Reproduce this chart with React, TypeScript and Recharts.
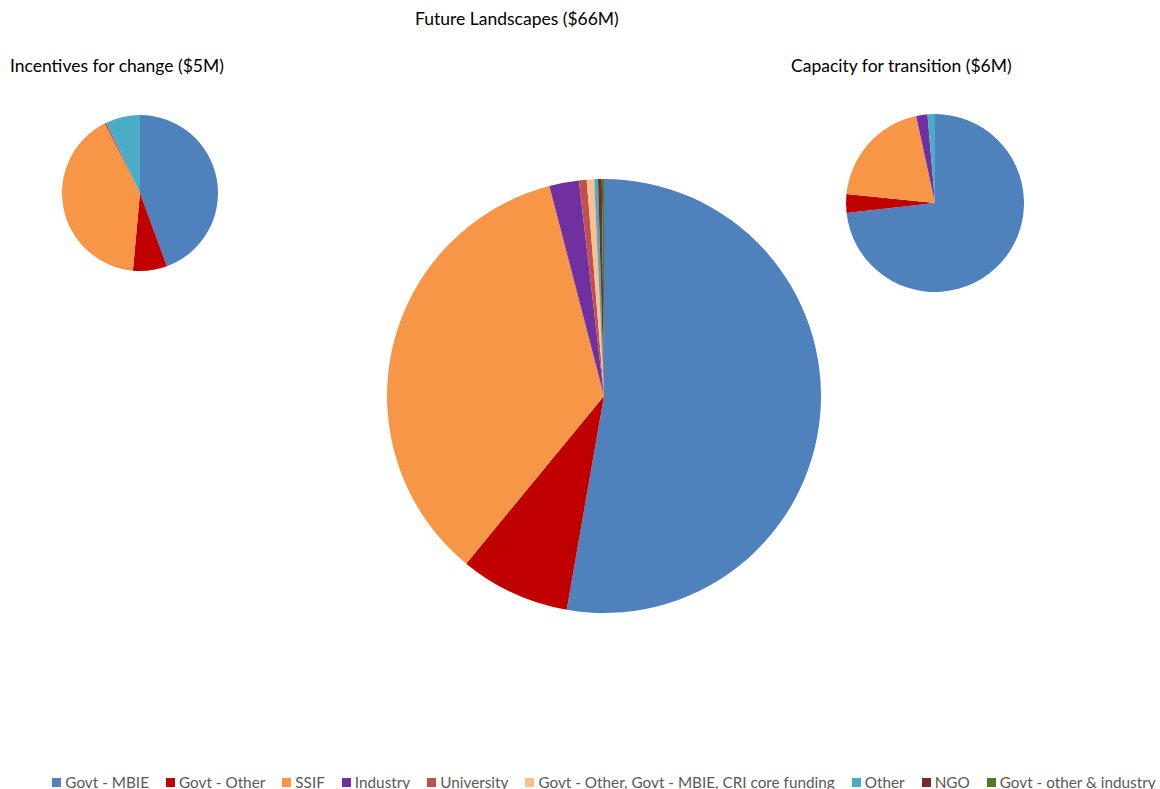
import { Cell, Pie, PieChart } from "recharts";

const categories = [
  "Govt - MBIE",
  "Govt - Other",
  "SSIF",
  "Industry",
  "University",
  "Govt - Other, Govt - MBIE, CRI core funding",
  "Other",
  "NGO",
  "Govt - other & industry",
];

const colors = [
  "#4F81BD",
  "#C00000",
  "#F79646",
  "#7030A0",
  "#C0504D",
  "#FAC090",
  "#4BACC6",
  "#772C2A",
  "#4F7A28",
];

// share of funding (%) per category, same order as categories
const futureLandscapes = [52.75, 8.2, 35.0, 2.2, 0.58, 0.55, 0.28, 0.28, 0.16];
const incentivesForChange = [44.4, 7.05, 41.05, 0, 0.4, 0, 7.1, 0, 0];
const capacityForTransition = [73.2, 3.4, 20.0, 2.05, 0, 0, 1.35, 0, 0];

const toRows = (values: number[]) =>
  categories
    .map((name, i) => ({ name, value: values[i], color: colors[i] }))
    .filter((d) => d.value > 0);

const titleStyle: React.CSSProperties = {
  position: "absolute",
  fontFamily: "Lato, 'Noto Sans', sans-serif",
  fontSize: 17.5,
  color: "#000",
  whiteSpace: "nowrap",
};

export default function App() {
  const pies = [
    { key: "fl", rows: toRows(futureLandscapes), cx: 604, cy: 396, r: 217 },
    { key: "ic", rows: toRows(incentivesForChange), cx: 140, cy: 193, r: 78 },
    { key: "ct", rows: toRows(capacityForTransition), cx: 935, cy: 203, r: 89 },
  ];

  return (
    <div
      style={{
        position: "absolute",
        left: 0,
        top: 0,
        width: 1160,
        height: 789,
        overflow: "hidden",
        background: "#fff",
      }}
    >
      <PieChart width={1160} height={789} margin={{ top: 0, right: 0, bottom: 0, left: 0 }}>
        {pies.map((p) => (
          <Pie
            key={p.key}
            data={p.rows}
            dataKey="value"
            nameKey="name"
            cx={p.cx}
            cy={p.cy}
            outerRadius={p.r}
            startAngle={90}
            endAngle={-270}
            stroke="none"
            isAnimationActive={false}
          >
            {p.rows.map((d) => (
              <Cell key={d.name} fill={d.color} />
            ))}
          </Pie>
        ))}
      </PieChart>

      <div style={{ ...titleStyle, left: 415, top: 8 }}>Future Landscapes ($66M)</div>
      <div style={{ ...titleStyle, left: 10, top: 55 }}>Incentives for change ($5M)</div>
      <div style={{ ...titleStyle, left: 791, top: 55 }}>Capacity for transition ($6M)</div>

      <div
        style={{
          position: "absolute",
          left: 0,
          width: 1208,
          top: 773,
          display: "flex",
          justifyContent: "center",
          gap: 17,
          fontFamily: "Lato, 'Noto Sans', sans-serif",
          fontSize: 15.3,
          color: "#595959",
          whiteSpace: "nowrap",
        }}
      >
        {categories.map((name, i) => (
          <div key={name} style={{ display: "flex", alignItems: "center", gap: 4 }}>
            <span style={{ width: 9, height: 9, background: colors[i], display: "inline-block" }} />
            <span>{name}</span>
          </div>
        ))}
      </div>
    </div>
  );
}
